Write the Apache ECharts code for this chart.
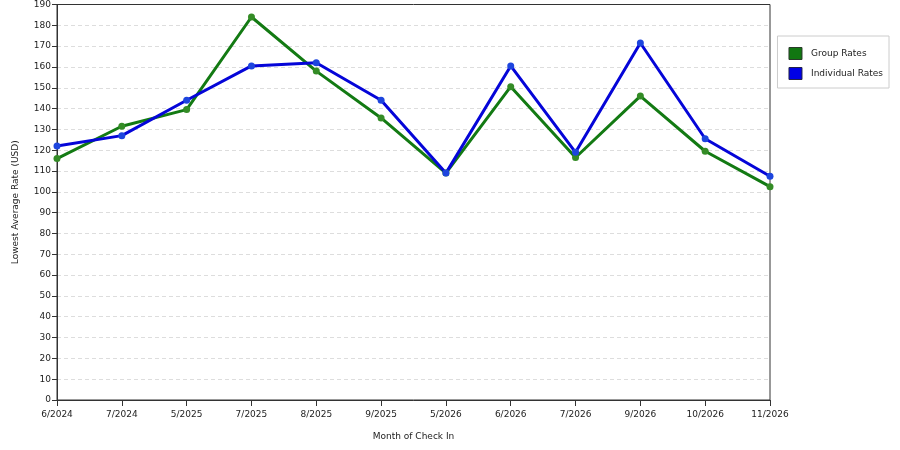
<!DOCTYPE html>
<html>
<head>
<meta charset="utf-8">
<script src="https://cdn.jsdelivr.net/npm/echarts@6/dist/echarts.min.js"></script>
<style>
  html, body { margin: 0; padding: 0; background: #fff; }
  #chart { width: 900px; height: 450px; }
</style>
</head>
<body>
<div id="chart"></div>
<script>
'use strict'
// Month of check in
var months = ['6/2024', '7/2024', '5/2025', '7/2025', '8/2025', '9/2025', '5/2026', '6/2026', '7/2026', '9/2026', '10/2026', '11/2026']
// Lowest average rate (USD)
var groupRates = [116, 131.5, 139.5, 184, 158, 135.5, 109, 150.5, 116.5, 146, 119.5, 102.5]
var individualRates = [122, 127, 144, 160.5, 162, 144, 109, 160.5, 119, 171.5, 125.5, 107.5]

var chart = echarts.init(document.getElementById('chart'))

chart.setOption({
  animation: false,
  textStyle: { fontFamily: 'DejaVu Sans' },
  grid: {
    left: 57,
    right: 130,
    top: 4,
    bottom: 50,
    show: true,
    borderColor: '#333',
    borderWidth: 1,
    containLabel: false
  },
  legend: {
    orient: 'vertical',
    right: 11,
    top: 36,
    padding: [11, 6, 8, 11],
    itemGap: 7,
    itemWidth: 13,
    itemHeight: 12,
    icon: 'rect',
    borderColor: '#ccc',
    borderWidth: 1,
    textStyle: { fontSize: 9, color: '#222', padding: [0, 0, 0, 4] },
    data: [
      { name: 'Group Rates', itemStyle: { color: '#117711', borderColor: '#2a3a2a', borderWidth: 1 } },
      { name: 'Individual Rates', itemStyle: { color: '#0000e6', borderColor: '#22224a', borderWidth: 1 } }
    ]
  },
  xAxis: {
    type: 'category',
    data: months,
    boundaryGap: false,
    name: 'Month of Check In',
    nameLocation: 'middle',
    nameGap: 32,
    nameTextStyle: { fontSize: 9, color: '#222' },
    axisLine: { lineStyle: { color: '#333' } },
    axisTick: { show: true, length: 6, lineStyle: { color: '#333' } },
    axisLabel: { fontSize: 9, color: '#222', margin: 10, interval: 0 }
  },
  yAxis: {
    type: 'value',
    min: 0,
    max: 190,
    interval: 10,
    name: 'Lowest Average Rate (USD)',
    nameLocation: 'middle',
    nameGap: 37,
    nameTextStyle: { fontSize: 9, color: '#222' },
    axisLine: { show: true, lineStyle: { color: '#333' } },
    axisTick: { show: true, length: 5, lineStyle: { color: '#333' } },
    axisLabel: { fontSize: 9, color: '#222', margin: 6 },
    splitLine: { showMaxLine: false, showMinLine: false, lineStyle: { color: '#ddd', type: [4, 3] } }
  },
  series: [
    {
      name: 'Group Rates',
      type: 'line',
      data: groupRates,
      symbol: 'circle',
      symbolSize: 7,
      lineStyle: { width: 3, color: '#137a13' },
      itemStyle: { color: '#348c26' }
    },
    {
      name: 'Individual Rates',
      type: 'line',
      data: individualRates,
      symbol: 'circle',
      symbolSize: 7,
      lineStyle: { width: 3, color: '#0505d8' },
      itemStyle: { color: '#1d45de' }
    }
  ]
})
</script>
</body>
</html>
